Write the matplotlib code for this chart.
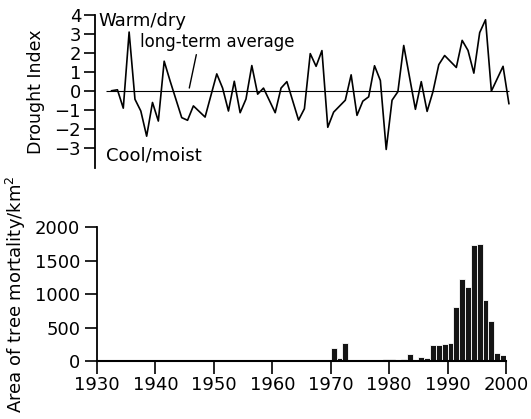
import matplotlib
matplotlib.use('Agg')
import matplotlib.pyplot as plt
import numpy as np

# Drought index (yearly values)
drought_years = [1932, 1933, 1934, 1935, 1936, 1937, 1938, 1939, 1940, 1941,
                 1942, 1944, 1945, 1946, 1948, 1950, 1951, 1952, 1953, 1954,
                 1955, 1956, 1957, 1958, 1960, 1961, 1962, 1964, 1965, 1966,
                 1967, 1968, 1969, 1970, 1972, 1973, 1974, 1975, 1976, 1977,
                 1978, 1979, 1980, 1981, 1982, 1984, 1985, 1986, 1987, 1988,
                 1989, 1991, 1992, 1993, 1994, 1995, 1996, 1997, 1999, 2000]
drought_index = [0.0, 0.05, -0.92, 3.1, -0.45, -1.07, -2.4, -0.62, -1.6, 1.56,
                 0.53, -1.42, -1.56, -0.8, -1.39, 0.89, 0.14, -1.07, 0.5, -1.16,
                 -0.44, 1.33, -0.18, 0.14, -1.16, 0.14, 0.48, -1.55, -0.95, 1.96,
                 1.29, 2.12, -1.93, -1.13, -0.5, 0.84, -1.3, -0.55, -0.32, 1.32,
                 0.54, -3.1, -0.5, -0.05, 2.39, -0.98, 0.48, -1.09, -0.05, 1.38,
                 1.86, 1.23, 2.66, 2.13, 0.93, 3.07, 3.75, -0.02, 1.29, -0.68]

# Area of tree mortality (km^2) per year 1930-1999
mort_years = list(range(1930, 2000))
mortality = [0, 10, 10, 10, 10, 5, 0, 0, 0, 0,          # 1930s
             0, 0, 0, 0, 0, 0, 0, 0, 10, 5,             # 1940s
             10, 15, 15, 10, 15, 15, 20, 15, 10, 5,     # 1950s
             0, 0, 0, 0, 0, 0, 0, 0, 0, 0,              # 1960s
             190, 40, 275, 15, 10, 10, 15, 15, 20, 25,  # 1970s
             30, 20, 25, 100, 20, 55, 40, 245, 245, 260,  # 1980s
             275, 800, 1230, 1100, 1730, 1740, 910, 600, 115, 95]  # 1990s

drought_ticks = [4, 3, 2, 1, 0, -1, -2, -3]
mort_ticks = [0, 500, 1000, 1500, 2000]
decade_ticks = [1930, 1940, 1950, 1960, 1970, 1980, 1990, 2000]

plt.rcParams['font.family'] = ['DejaVu Sans']
plt.rcParams['font.size'] = 13

fig = plt.figure(figsize=(5.31, 4.19), dpi=100)

# ---- top panel: drought index
ax1 = fig.add_axes([95 / 531, 251 / 419, 417 / 531, 153 / 419])
x_mid = np.array(drought_years) + 0.5   # yearly value plotted mid-year
ax1.plot(x_mid, drought_index, color='black', lw=1.2)
ax1.hlines(0, x_mid[0] - 1, x_mid[-1], color='black', lw=0.8)
ax1.set_xlim(1929.66, 2001.03)
ax1.set_ylim(-4.08, 4)
ax1.set_yticks(drought_ticks)
ax1.set_yticklabels([f'\u2212{abs(t)}' if t < 0 else str(t) for t in drought_ticks])
ax1.set_xticks([])
for s in ['top', 'right', 'bottom']:
    ax1.spines[s].set_visible(False)
ax1.spines['left'].set_linewidth(1.3)
ax1.tick_params(axis='y', direction='out', length=8, width=1.2, pad=2)
ax1.set_ylabel('Drought Index', fontsize=12.5, labelpad=7)

ax1.text(1930.2, 4.15, 'Warm/dry', ha='left', va='top')
ax1.text(1937.3, 2.55, 'long-term average', ha='left', va='center', fontsize=12)
ax1.annotate('', xy=(1945.7, 0), xytext=(1947.1, 2.05),
             arrowprops=dict(arrowstyle='-', color='black', lw=1.0))
ax1.text(1931.5, -3.4, 'Cool/moist', ha='left', va='center')

# ---- bottom panel: tree mortality
ax2 = fig.add_axes([97 / 531, 58 / 419, 409 / 531, 134 / 419])
ax2.bar(mort_years, mortality, width=1.0, align='edge', color='#151515',
        edgecolor='white', linewidth=0.6)
ax2.set_xlim(1930, 2000)
ax2.set_ylim(0, 2000)
ax2.set_xticks(decade_ticks)
ax2.set_yticks(mort_ticks)
for s in ['top', 'right']:
    ax2.spines[s].set_visible(False)
ax2.spines['left'].set_linewidth(1.3)
ax2.spines['bottom'].set_linewidth(1.5)
ax2.tick_params(direction='out', length=9, width=1.2, pad=2)
ax2.tick_params(axis='y', length=9, pad=3)
ax2.set_ylabel('Area of tree mortality/km$^2$', labelpad=5)

fig.savefig('out.png', dpi=100)
